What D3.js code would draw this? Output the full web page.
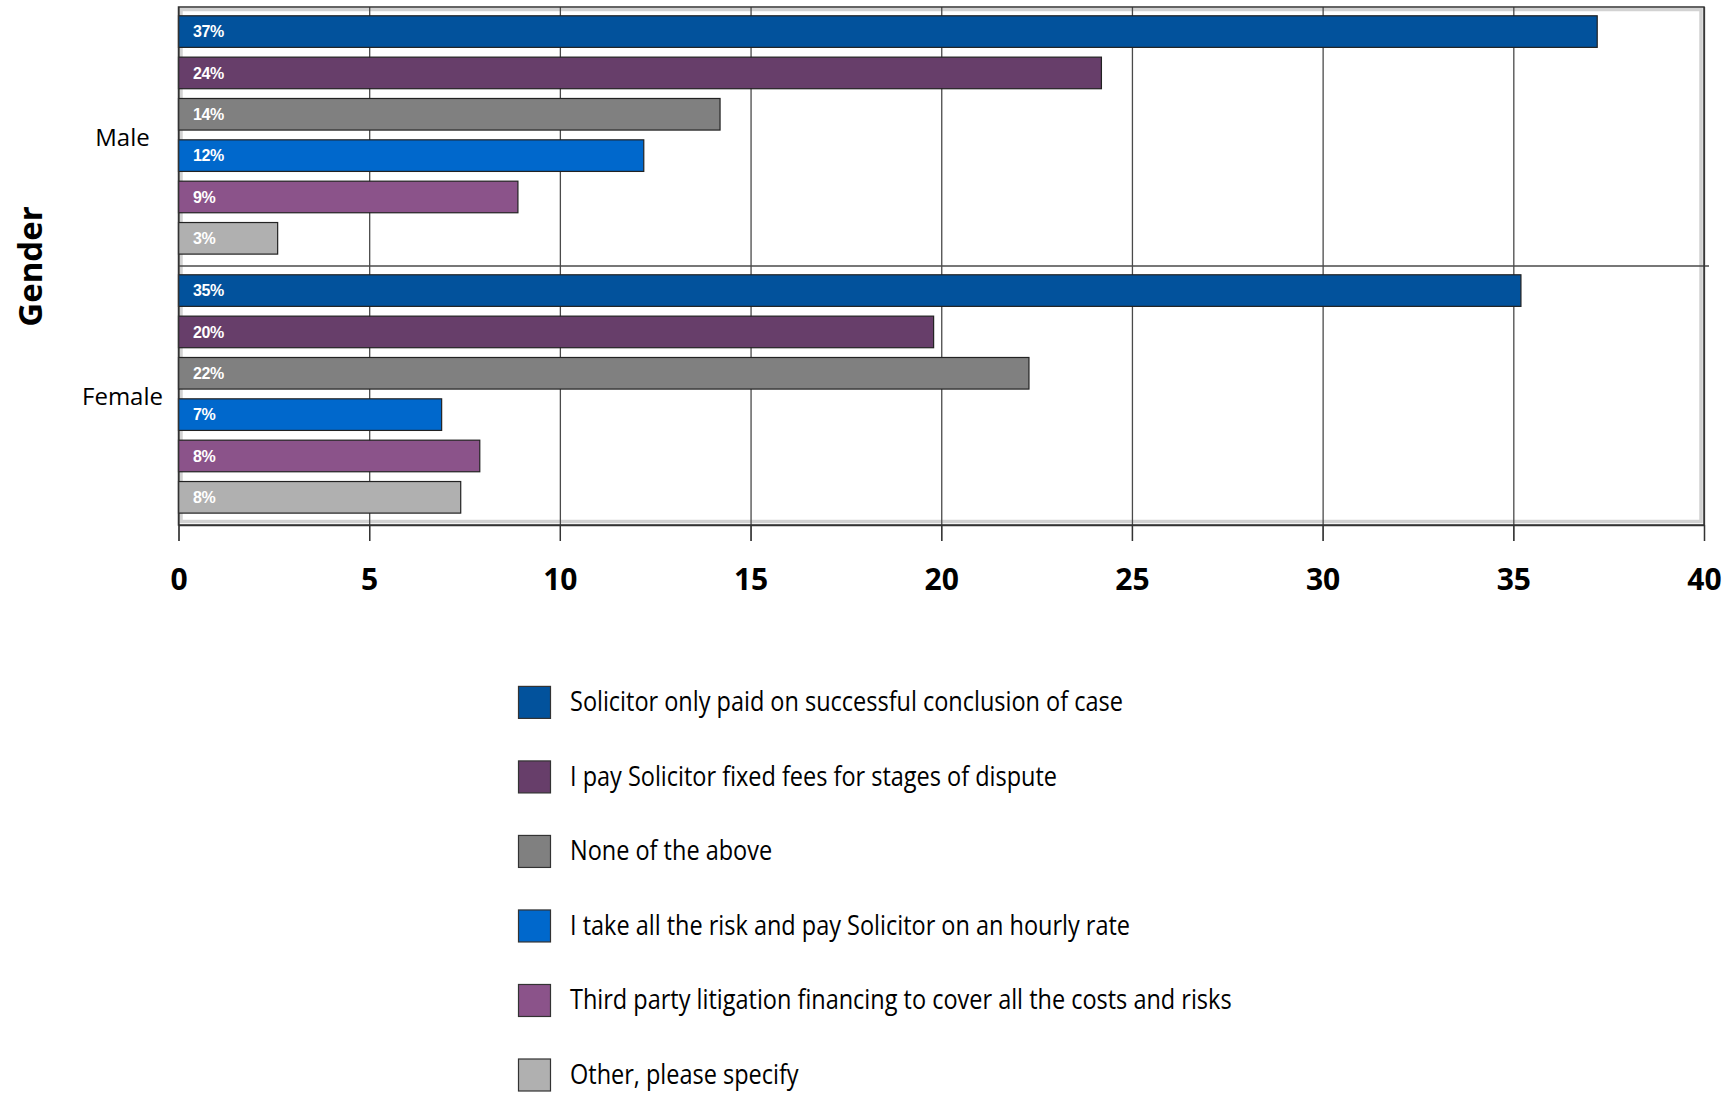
<!DOCTYPE html>
<html>
<head>
<meta charset="utf-8">
<script src="https://cdn.jsdelivr.net/npm/d3@7"></script>
<style>
	body { margin: 0; background: #fff; }
	svg { display: block; }
</style>
</head>
<body>
<div id="chart"></div>
<script>
/**
 * Chart data.
 */
var genders = ["Male", "Female"];
var options = [
	"Solicitor only paid on successful conclusion of case",
	"I pay Solicitor fixed fees for stages of dispute",
	"None of the above",
	"I take all the risk and pay Solicitor on an hourly rate",
	"Third party litigation financing to cover all the costs and risks",
	"Other, please specify"
];
var maleValues = [37.2, 24.2, 14.2, 12.2, 8.9, 2.6];
var femaleValues = [35.2, 19.8, 22.3, 6.9, 7.9, 7.4];
var valueLabels = {
	Male: ["37%", "24%", "14%", "12%", "9%", "3%"],
	Female: ["35%", "20%", "22%", "7%", "8%", "8%"]
};
var xTicks = [0, 5, 10, 15, 20, 25, 30, 35, 40];
var colors = ["#02529c", "#673e6a", "#808080", "#0068cc", "#8b538a", "#b0b0b0"];

{
	var width = 1729,
		height = 1094,
		plot = { left: 178.5, right: 1704, top: 7, bottom: 525 };

	var svg = d3.select("#chart").append("svg")
		.attr("width", width)
		.attr("height", height);

	var x = d3.scaleLinear()
		.domain([0, 40])
		.range([plot.left, plot.right]);

	var y0 = d3.scaleBand()
		.domain(genders)
		.range([plot.top, plot.bottom]);

	var y1 = d3.scaleBand()
		.domain(options)
		.range([0, y0.bandwidth()])
		.paddingInner(0.236)
		.paddingOuter(0.25)
		.align(0.425);

	var color = d3.scaleOrdinal().domain(options).range(colors);

	// rows for each bar
	var rows = [];
	genders.forEach(function (g, gi) {
		var vals = gi == 0 ? maleValues : femaleValues;
		options.forEach(function (o, i) {
			rows.push({ gender: g, option: o, value: vals[i], label: valueLabels[g][i] });
		});
	});

	// light inner frame
	svg.append("rect")
		.attr("x", plot.left + 2.5)
		.attr("y", plot.top + 2.5)
		.attr("width", plot.right - plot.left - 5.5)
		.attr("height", plot.bottom - plot.top - 6)
		.attr("fill", "none")
		.attr("stroke", "#d2d2d2")
		.attr("stroke-width", 3.5);

	// vertical grid lines
	svg.append("g")
		.attr("transform", "translate(0," + plot.top + ")")
		.call(d3.axisTop(x).tickValues(xTicks).tickSize(-(plot.bottom - plot.top) - 16).tickFormat(""))
		.call(function (g) { g.select(".domain").remove(); })
		.selectAll("line")
		.attr("stroke", "#4a4a4a")
		.attr("stroke-width", 1.3);

	// divider between groups
	svg.append("line")
		.attr("x1", plot.left)
		.attr("x2", plot.right + 5)
		.attr("y1", y0("Female"))
		.attr("y2", y0("Female"))
		.attr("stroke", "#4a4a4a")
		.attr("stroke-width", 1.3);

	// bars
	var bar = svg.selectAll(".bar")
		.data(rows)
		.enter().append("g")
		.attr("class", "bar")
		.attr("transform", function (d) {
			return "translate(0," + (y0(d.gender) + y1(d.option)) + ")";
		});

	bar.append("rect")
		.attr("x", x(0))
		.attr("width", function (d) { return x(d.value) - x(0); })
		.attr("height", y1.bandwidth())
		.attr("fill", function (d) { return color(d.option); })
		.attr("stroke", "#222")
		.attr("stroke-width", 1.2);

	bar.append("text")
		.attr("x", x(0) + 14.5)
		.attr("y", y1.bandwidth() / 2)
		.attr("dy", "0.36em")
		.attr("fill", "#fff")
		.style("font-family", "'Liberation Sans', Arial, sans-serif")
		.style("font-weight", "bold")
		.style("font-size", "16px")
		.style("letter-spacing", "-0.4px")
		.text(function (d) { return d.label; });

	// plot frame
	svg.append("rect")
		.attr("x", plot.left)
		.attr("y", plot.top)
		.attr("width", plot.right - plot.left)
		.attr("height", plot.bottom - plot.top)
		.attr("fill", "none")
		.attr("stroke", "#333")
		.attr("stroke-width", 1.5);

	// x axis
	var xAxis = svg.append("g")
		.attr("transform", "translate(0," + plot.bottom + ")")
		.call(d3.axisBottom(x).tickValues(xTicks).tickSize(16).tickSizeOuter(0));

	xAxis.select(".domain").attr("stroke", "#333").attr("stroke-width", 1.5);
	xAxis.selectAll("line").attr("stroke", "#333").attr("stroke-width", 1.3);
	xAxis.selectAll("text")
		.attr("y", 65)
		.attr("dy", 0)
		.attr("fill", "#000")
		.style("font-family", "'Open Sans', sans-serif")
		.style("font-weight", "bold")
		.style("font-size", "30px");

	// category labels
	svg.selectAll(".cat")
		.data(genders)
		.enter().append("text")
		.attr("class", "cat")
		.attr("x", 122.5)
		.attr("y", function (d) { return y0(d) + y0.bandwidth() / 2 + 9; })
		.attr("text-anchor", "middle")
		.style("font-family", "'Open Sans', sans-serif")
		.style("font-size", "24px")
		.text(function (d) { return d; });

	// axis title
	svg.append("text")
		.attr("transform", "translate(42," + ((plot.top + plot.bottom) / 2 + 0.5) + ") rotate(-90)")
		.attr("text-anchor", "middle")
		.style("font-family", "'Open Sans', sans-serif")
		.style("font-weight", "bold")
		.style("font-size", "33px")
		.text("Gender");

	// legend
	var legendY = d3.scalePoint()
		.domain(options)
		.range([702.4, 1075]);

	var legend = svg.selectAll(".legend")
		.data(options)
		.enter().append("g")
		.attr("class", "legend")
		.attr("transform", function (d) { return "translate(518," + legendY(d) + ")"; });

	legend.append("rect")
		.attr("x", 0.5)
		.attr("y", -16)
		.attr("width", 32)
		.attr("height", 32)
		.attr("fill", function (d) { return color(d); })
		.attr("stroke", "#333")
		.attr("stroke-width", 1.2);

	legend.append("text")
		.attr("transform", "translate(52,9) scale(0.87,1)")
		.style("font-family", "'Open Sans', sans-serif")
		.style("font-size", "27px")
		.text(function (d) { return d; });
}
</script>
</body>
</html>
